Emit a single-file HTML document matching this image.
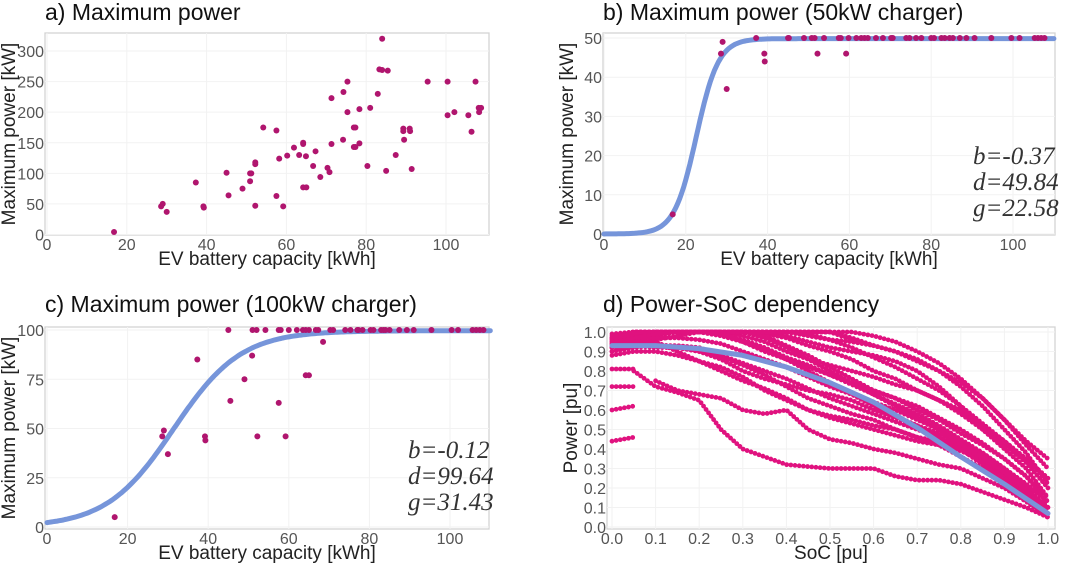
<!DOCTYPE html>
<html><head><meta charset="utf-8"><style>
body{margin:0;background:#fff;}
svg{display:block;font-family:"Liberation Sans",sans-serif;}
.tk{fill:#555;font-size:16px;}
.at{fill:#222;font-size:19px;}
.tt{fill:#111;font-size:23px;}
.an{fill:#333;font-size:25px;font-family:"Liberation Serif",serif;font-style:italic;}
</style></head><body>
<svg id="c" width="1080" height="565"></svg>
<script>
// ---- data ----
const capA=[16.8,28.6,29,30,37.3,39.2,39.3,45,45.5,49,50.9,51.2,50.9,52.2,52.2,52.2,54.2,57.5,57.5,58.2,59.2,60.2,61.9,63.2,64.2,64.2,64.2,65,64.9,66.7,67.3,68.5,70.3,70.8,71.3,71.3,74.2,74.3,75.3,75.3,76.9,77.3,76.9,77.3,78.3,78.3,80.3,81,82.9,83.3,84,84,85,85.4,87.4,89.3,89.3,89.5,90.9,91,91.4,95.4,100.4,100.4,102.1,105.6,106.4,107.4,108.2,108.8,108.3];
const powA=[4,46,50,37,85,46,44,101,64,75,100,100,87,47,118,115,175,170,63,124,46,129,142,130,150,148,77,77,128,112,136,94,109,102,223,148,155,233,250,200,175,175,143,143,205,149,112,207,230,270,269,320,104,268,130,173,169,155,173,169,107,250,250,195,200,195,168,250,207,207,200];
const capB=[16.8,28.6,29,30,39.2,39.3,52.2,59.2,37.2,45,45.2,48.9,50.8,51.5,53.8,57.4,57.9,59.8,61.7,62.9,63.7,64.5,66.5,68.2,70.2,70.6,73.9,74.7,76.3,77.6,80,80.7,82.5,83.3,84.5,85.3,87,88.6,90.6,94.7,99.6,101.6,105.3,106.1,106.9,107.7];
const powB=[5,46,49,37,46,44,46,46,50,50,50,50,50,50,50,50,50,50,50,50,50,50,50,50,50,50,50,50,50,50,50,50,50,50,50,50,50,50,50,50,50,50,50,50,50,50];
const capC=[16.8,28.6,29,30,37.3,39.2,39.3,45.5,49,50.9,52.2,57.5,59.2,64.2,65,68.5,45,51,52,54.2,57.5,58,60,62,63.5,64.2,65,66.7,67.3,70.3,71,74,75.3,77,77.3,78.3,80.3,81,82.9,83.5,84,85,87.4,89.3,91,95.4,100.4,102,105.6,106.5,107.4,108.3];
const powC=[5,46,49,37,85,46,44,64,75,87,46,63,46,77,77,94,100,100,100,100,100,100,100,100,100,100,100,100,100,100,100,100,100,100,100,100,100,100,100,100,100,100,100,100,100,100,100,100,100,100,100,100];
const fitB=[-0.37,49.84,22.58];
const fitC=[-0.12,99.64,31.43];
const socSteps=[0,0.05,0.1,0.15,0.2,0.25,0.3,0.35,0.4,0.45,0.5,0.55,0.6,0.65,0.7,0.75,0.8,0.85,0.9,0.95,1.0];
const curveD1=[0.95,0.98,1,1,1,1,1,1,1,1,1,0.97,0.93,0.9,0.85,0.8,0.72,0.62,0.5,0.38,0.22];
const curveD2=[0.93,0.97,1,1,1,1,1,0.99,0.97,0.93,0.9,0.86,0.8,0.76,0.7,0.65,0.58,0.5,0.42,0.33,0.2];
const curveD3=[0.92,0.95,0.98,1,1,1,0.98,0.95,0.9,0.86,0.83,0.8,0.77,0.73,0.7,0.65,0.6,0.52,0.44,0.35,0.25];
const curveD4=[0.9,0.93,0.96,0.98,1,1,0.95,0.9,0.86,0.82,0.78,0.74,0.7,0.66,0.62,0.56,0.5,0.43,0.35,0.26,0.15];
const curveD5=[0.94,0.96,0.97,0.97,0.96,0.94,0.9,0.86,0.82,0.77,0.72,0.68,0.64,0.6,0.55,0.5,0.44,0.38,0.3,0.2,0.1];
const curveD6=[0.9,0.92,0.93,0.93,0.92,0.88,0.84,0.8,0.76,0.71,0.66,0.62,0.58,0.54,0.5,0.46,0.41,0.34,0.26,0.17,0.07];
const curveD7=[0.88,0.9,0.9,0.88,0.85,0.8,0.75,0.71,0.66,0.6,0.56,0.53,0.5,0.47,0.44,0.42,0.39,0.34,0.28,0.18,0.05];
const curveD8=[0.96,1,1,1,1,1,1,1,0.98,0.95,0.92,0.9,0.88,0.85,0.8,0.72,0.62,0.5,0.4,0.3,0.15];
const curveD9=[0.97,1,1,1,1,1,1,1,1,1,1,0.96,0.93,0.9,0.86,0.8,0.74,0.66,0.55,0.44,0.35];
const curveD10=[0.95,0.98,1,1,1,1,1,1,1,0.98,0.96,0.95,0.93,null,null,null,null,null,null,null,null];
const curveD11=[null,0.8,0.72,0.69,0.65,0.5,0.4,0.36,0.32,0.31,0.3,0.3,0.3,0.26,0.24,0.24,0.22,0.18,0.14,0.1,0.05];
const curveD12=[null,null,0.75,0.7,0.68,0.66,0.6,0.58,0.6,0.5,0.45,0.43,0.4,0.38,0.35,0.32,0.3,0.25,0.2,0.13,0.05];
const curveD13=[0.93,0.95,0.95,0.9,0.85,0.82,0.77,0.7,0.65,0.6,0.57,0.55,0.52,0.5,0.46,0.44,0.4,0.36,0.3,0.22,0.13];
const curveD14=[0.92,0.93,0.92,0.92,0.9,0.87,0.83,0.78,0.72,0.66,0.62,0.58,0.55,0.5,0.46,0.42,0.36,0.3,0.23,0.16,0.08];
const curveD15=[0.97,1,1,1,1,1,1,0.98,0.93,0.88,0.82,0.76,0.7,0.66,0.6,0.55,0.48,0.42,0.35,0.26,0.12];
const curveD16=[0.6,0.62,null,null,null,null,null,null,null,null,null,null,null,null,null,null,null,null,null,null,null];
const curveD17=[0.44,0.46,null,null,null,null,null,null,null,null,null,null,null,null,null,null,null,null,null,null,null];
const curveD18=[0.81,0.81,null,null,null,null,null,null,null,null,null,null,null,null,null,null,null,null,null,null,null];
const curveD19=[0.99,1,1,1,1,1,1,1,1,1,1,1,0.98,0.95,0.9,0.84,0.76,0.66,0.55,0.42,0.3];
const curveD20=[0.92,0.94,0.94,0.92,0.9,0.86,0.8,0.76,0.73,0.7,0.68,0.65,0.6,0.56,0.52,0.48,0.42,0.35,0.28,0.2,0.1];
const curveD21=[0.98,1,1,1,1,1,1,0.97,0.92,0.86,0.8,0.74,0.68,0.62,0.56,0.5,0.43,0.36,0.28,0.19,0.09];
const curveD22=[0.96,0.99,1,1,1,0.98,0.95,0.91,0.86,0.8,0.74,0.68,0.62,0.57,0.52,0.46,0.4,0.32,0.24,0.15,0.06];
const curveD23=[0.97,1,1,1,1,1,1,1,1,0.99,0.96,0.92,0.87,0.82,0.76,0.7,0.62,0.53,0.44,0.34,0.24];
const curveD24=[0.94,0.97,0.99,1,1,0.99,0.96,0.92,0.87,0.83,0.78,0.73,0.68,0.63,0.58,0.52,0.45,0.38,0.3,0.22,0.13];
const curveD25=[0.72,0.72,null,null,null,null,null,null,null,null,null,null,null,null,null,null,null,null,null,null,null];
const fitSoc=[0,0.1,0.2,0.3,0.4,0.5,0.6,0.7,0.8,0.9,1.0];
const fitPow=[0.93,0.93,0.915,0.88,0.82,0.74,0.64,0.51,0.36,0.22,0.07];
const ticksCap=[0,20,40,60,80,100];
const ticksA=[0,50,100,150,200,250,300];
const ticksB=[0,10,20,30,40,50];
const ticksC=[0,25,50,75,100];
const ticksD=[0,0.1,0.2,0.3,0.4,0.5,0.6,0.7,0.8,0.9,1.0];
// ---- drawing ----
const svg=document.getElementById('c');const NS='http://www.w3.org/2000/svg';
function mk(t,a,p){const e=document.createElementNS(NS,t);for(const k in a)e.setAttribute(k,a[k]);(p||svg).appendChild(e);return e;}
function panel(id,box,xd,yd,xt,yt,xfmt,yfmt,title,xl,yl,tpos){
 const g=mk('g',{});
 
 
 const X=v=>box.x0+(v-xd[0])/(xd[1]-xd[0])*(box.x1-box.x0);
 const Y=v=>box.y1-(v-yd[0])/(yd[1]-yd[0])*(box.y1-box.y0);
 const bg=mk('rect',{x:box.l,y:box.t,width:box.r-box.l,height:box.b-box.t,fill:'#fff',stroke:'#d4d4d4','stroke-width':1.3},g);
 
 
 xt.forEach(v=>{mk('line',{x1:X(v),x2:X(v),y1:box.t,y2:box.b,stroke:'#f2f2f2'},g);
  const t=mk('text',{x:X(v),y:box.b+15,'text-anchor':'middle',class:'tk'},g);t.textContent=xfmt(v);
  
  });
 yt.forEach(v=>{mk('line',{x1:box.l,x2:box.r,y1:Y(v),y2:Y(v),stroke:'#f2f2f2'},g);
  const t=mk('text',{x:box.l-1,y:Y(v)+6,'text-anchor':'end',class:'tk'},g);t.textContent=yfmt(v);
  
  });
 const tt=mk('text',{x:tpos[0],y:tpos[1],class:'tt'},g);tt.textContent=title;
 
 
 const xa=mk('text',{x:(box.l+box.r)/2,y:box.b+30,'text-anchor':'middle',class:'at'},g);xa.textContent=xl;
 
 
 const cy=(box.t+box.b)/2,cx=box.l-30;
 const ya=mk('text',{x:cx,y:cy,'text-anchor':'middle',class:'at',transform:`rotate(-90 ${cx} ${cy})`},g);ya.textContent=yl;
 
 
 return {g,X,Y};
}
function dots(P,xs,ys){xs.forEach((x,i)=>{const c=mk('circle',{cx:P.X(x),cy:P.Y(ys[i]),r:3,fill:'#b0156e'},P.g);
 
 });}
function logi(P,f,x0,x1){let d='';for(let x=x0;x<=x1;x+=0.5){const y=f[1]/(1+Math.exp(f[0]*(x-f[2])));d+=(d?'L':'M')+P.X(x).toFixed(1)+','+P.Y(y).toFixed(1);}
 const p=mk('path',{d,fill:'none',stroke:'#6f8fd8','stroke-width':5,'stroke-linecap':'round',opacity:0.95},P.g);
 
 }
function ann(P,x,y,lines,gap){lines.forEach((s,i)=>{const t=mk('text',{x,y:y+i*gap,class:'an'},P.g);t.textContent=s;
 
 });}
const int=v=>String(v), d1=v=>v.toFixed(1);
// a
const A=panel('panel-a',{l:45,r:489,t:33,b:235,x0:47,x1:446,y0:51,y1:234.5},[0,100],[0,300],ticksCap,ticksA,int,int,'a) Maximum power','EV battery capacity [kWh]','Maximum power [kW]',[45,20]);
dots(A,capA,powA);
// b
const B=panel('panel-b',{l:603,r:1055,t:33,b:235,x0:604,x1:1013,y0:38,y1:234},[0,100],[0,50],ticksCap,ticksB,int,int,'b) Maximum power (50kW charger)','EV battery capacity [kWh]','Maximum power [kW]',[603,20]);
logi(B,fitB,0,110);dots(B,capB,powB);
ann(B,973,164,['b=-0.37','d=49.84','g=22.58'],26);
// c
const C=panel('panel-c',{l:45,r:489,t:327,b:529,x0:47,x1:450,y0:330,y1:527},[0,100],[0,100],ticksCap,ticksC,int,int,'c) Maximum power (100kW charger)','EV battery capacity [kWh]','Maximum power [kW]',[45,312]);
logi(C,fitC,0,110);dots(C,capC,powC);
ann(C,408,458,['b=-0.12','d=99.64','g=31.43'],26);
// d
const D=panel('panel-d',{l:607,r:1055,t:327,b:529,x0:612,x1:1048,y0:332,y1:527},[0,1],[0,1],ticksD,ticksD,d1,d1,'d) Power-SoC dependency','SoC [pu]','Power [pu]',[603,312]);
[curveD1,curveD2,curveD3,curveD4,curveD5,curveD6,curveD7,curveD8,curveD9,curveD10,curveD11,curveD12,curveD13,curveD14,curveD15,curveD16,curveD17,curveD18,curveD19,curveD20,curveD21,curveD22,curveD23,curveD24,curveD25].forEach(cv=>{
 let d='';let pen=false;cv.forEach((v,i)=>{if(v===null){pen=false;return;}d+=(pen?'L':'M')+D.X(socSteps[i]).toFixed(1)+','+D.Y(v).toFixed(1);pen=true;});
 const p=mk('path',{d,fill:'none',stroke:'#e0127f','stroke-width':4.8,'stroke-linecap':'round','stroke-dasharray':'0 4.2'},D.g);
 
 
});
{let d='';fitSoc.forEach((s,i)=>{d+=(i?'L':'M')+D.X(s).toFixed(1)+','+D.Y(fitPow[i]).toFixed(1);});
 const p=mk('path',{d,fill:'none',stroke:'#7a93d8','stroke-width':5,'stroke-linecap':'round','stroke-linejoin':'round'},D.g);
 
 }
</script>
</body></html>
